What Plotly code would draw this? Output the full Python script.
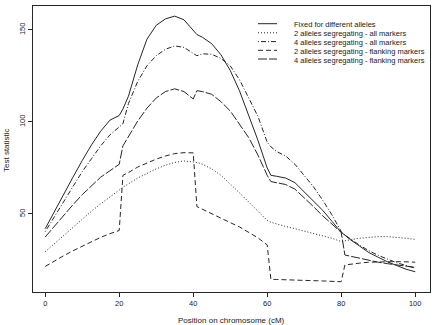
import plotly.graph_objects as go

# Shared positions along the chromosome (cM)
positions = [0, 2.5, 5, 7.5, 10, 12.5, 15, 17.5, 20, 21, 22.5, 25, 27.5, 30, 32.5, 35, 37.5, 40, 41,
             42.5, 45, 47.5, 50, 52.5, 55, 57.5, 60, 61, 62.5, 65, 67.5, 70, 72.5, 75, 77.5, 80, 81,
             82.5, 85, 87.5, 90, 92.5, 95, 97.5, 100]

fixed_alleles = [42, 51.5, 61, 70, 79, 87.5, 95, 101, 103.5, 107, 114, 131, 145, 152.5, 156, 157.5, 155.5, 150, 147.5,
                 146, 142.5, 136.5, 128, 117, 104, 90, 75, 71, 70.5, 69.5, 67, 62, 57.5, 52, 46, 40, 38.5,
                 36, 32.5, 29, 26.5, 24, 22, 20, 18.6]

two_all = [29.5, 34, 38.5, 43, 47.2, 51.5, 55.5, 59.5, 63, 64.5, 66.5, 69.5, 72, 74.5, 76.5, 78, 78.8, 78.4, 78,
           77, 74.5, 71, 66.5, 61.5, 56.5, 51.5, 46.5, 45.5, 44.5, 43.2, 42, 40.8, 39.5, 38.2, 36.8, 35, 35.5,
           36, 36.8, 37.4, 37.7, 37.7, 37.4, 36.8, 36.2]

four_all = [40.4, 48.5, 57, 65, 73, 80, 87, 93, 97, 99, 110, 122, 130.5, 136, 139.5, 141.3, 140.5, 137, 136,
            137, 136.8, 134.5, 130.5, 123, 113, 103, 89, 86.5, 84, 81.5, 77, 71, 64.8, 57.5, 49.5, 40.5, 38.5,
            36.5, 33, 30, 27.5, 25.5, 23.5, 22, 20.5]

two_flank = [21.5, 24.5, 27.3, 30, 32.5, 35, 37.3, 39.3, 41, 71, 72.5, 75.5, 77.8, 79.8, 81.5, 82.8, 83.3, 83.2, 54,
             52.5, 50, 47.5, 45.3, 43, 40.2, 37, 33.2, 14.5, 14.4, 14.3, 14.1, 14, 13.8, 13.6, 13.4, 13.2, 22.3,
             22.8, 23.3, 23.8, 24, 24.1, 24.1, 24, 23.8]

four_flank = [37.5, 43.5, 49.5, 55, 60.5, 65.5, 70, 73.5, 77, 87, 92, 100.5, 107.5, 113, 116.5, 118, 116.5, 112.5, 117,
              116.5, 115, 111, 106, 99, 91.5, 82, 71, 67.6, 67, 66, 63.5, 59, 54, 49, 44.5, 40, 27.7,
              27, 25.8, 24.8, 23.8, 23, 22.3, 21.7, 21]

series_names = ["Fixed for different alleles",
                "2 alleles segregating - all markers",
                "4 alleles segregating - all markers",
                "2 alleles segregating - flanking markers",
                "4 alleles segregating - flanking markers"]
series_values = [fixed_alleles, two_all, four_all, two_flank, four_flank]
dash_styles = ["solid", "1px,2px", "1px,2px,5px,2px", "5px,3px", "9px,2px"]

x_ticks = [0, 20, 40, 60, 80, 100]
y_ticks = [50, 100, 150]

LINE = "#262626"
FONT = "Liberation Sans, Arial, sans-serif"

fig = go.Figure()
for name, vals, dash in zip(series_names, series_values, dash_styles):
    fig.add_trace(go.Scatter(x=positions, y=vals, mode="lines", name=name,
                             line=dict(color=LINE, width=1, dash=dash), showlegend=False))

W, H = 434, 325
L, R, T, B = 33, 4, 6, 33
pw, ph = W - L - R, H - T - B

def px(xp):
    return (xp - L) / pw

def py(yp):
    return (H - B - yp) / ph

axis_common = dict(showline=True, mirror=True, linecolor=LINE, linewidth=1, ticks="outside",
                   ticklen=4, tickcolor=LINE, tickwidth=1, showgrid=False, zeroline=False,
                   tickfont=dict(family=FONT, size=7.5, color="#222"))

fig.update_layout(
    width=W, height=H, margin=dict(l=L, r=R, t=T, b=B),
    paper_bgcolor="white", plot_bgcolor="white",
    xaxis=dict(range=[-3.3, 104], tickvals=x_ticks, **axis_common),
    yaxis=dict(range=[7.6, 163], tickvals=y_ticks, tickangle=-90, **axis_common),
    showlegend=False,
)

annotations = [
    dict(text="Position on chromosome (cM)", x=px(231), y=py(320), xref="paper", yref="paper",
         xanchor="center", yanchor="middle", showarrow=False, font=dict(family=FONT, size=8, color="#222")),
    dict(text="Test statistic", x=px(6), y=py(150), xref="paper", yref="paper", textangle=-90,
         xanchor="center", yanchor="middle", showarrow=False, font=dict(family=FONT, size=8, color="#222")),
]
shapes = []
row_y = [24.7, 33.8, 42.6, 51.3, 60.0]
for name, dash, ry in zip(series_names, dash_styles, row_y):
    annotations.append(dict(text=name, x=px(292), y=py(ry), xref="paper", yref="paper",
                            xanchor="left", yanchor="middle", showarrow=False,
                            font=dict(family=FONT, size=7.5, color="#222")))
    shapes.append(dict(type="line", xref="paper", yref="paper", x0=px(258), x1=px(277),
                       y0=py(ry - 1), y1=py(ry - 1), line=dict(color=LINE, width=1, dash=dash)))

fig.update_layout(annotations=annotations, shapes=shapes)
fig.write_html("out.html")
